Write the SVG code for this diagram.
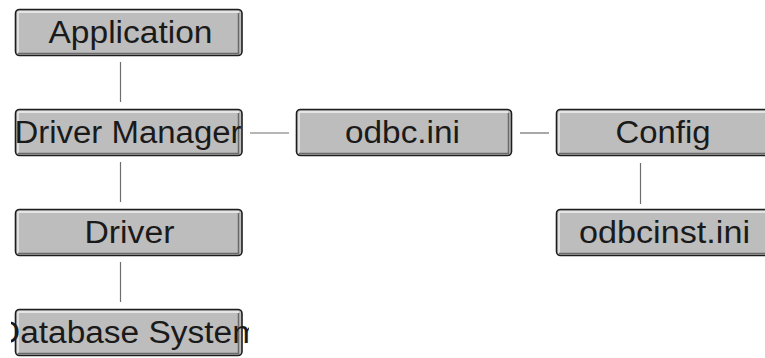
<svg xmlns="http://www.w3.org/2000/svg" width="765" height="358" viewBox="0 0 765 358">
<style>
.box{fill:#bdbdbd;stroke:#1e1e1e;stroke-width:1.6}
.hi{fill:none;stroke:#f2f2f2;stroke-width:1.3}
.sh{fill:none;stroke:#6a6a6a;stroke-width:1.5}
.lbl{font-family:"Liberation Sans",Arial,sans-serif;font-size:31px;fill:#1a1a1a;text-anchor:middle}
.conn line{stroke:#6e6e6e;stroke-width:1.2}
</style>
<defs>
<clipPath id="c1"><rect x="11" y="0" width="238" height="358"/></clipPath>
</defs>
<rect width="765" height="358" fill="#ffffff"/>
<g class="conn" id="connectors">
<line x1="120.5" y1="62" x2="120.5" y2="102"/>
<line x1="120.5" y1="162" x2="120.5" y2="202"/>
<line x1="120.5" y1="262" x2="120.5" y2="302"/>
<line x1="250" y1="133" x2="289" y2="133"/>
<line x1="520" y1="133" x2="549" y2="133"/>
<line x1="640.5" y1="163" x2="640.5" y2="204"/>
</g>
<g id="application">
<rect class="box" x="15.5" y="9.5" width="226.5" height="46" rx="4"/>
<path class="hi" d="M18,53 V13 Q18,12 19,12 H239"/>
<path class="sh" d="M18,53.5 H238.5 V13"/>
<text class="lbl" x="130.5" y="42.5" textLength="164" lengthAdjust="spacingAndGlyphs" clip-path="url(#c1)">Application</text>
</g>
<g id="driver-manager">
<rect class="box" x="15.5" y="109.5" width="226.5" height="46" rx="4"/>
<path class="hi" d="M18,153 V113 Q18,112 19,112 H239"/>
<path class="sh" d="M18,153.5 H238.5 V113"/>
<text class="lbl" x="128" y="142.5" textLength="227" lengthAdjust="spacingAndGlyphs" clip-path="url(#c1)">Driver Manager</text>
</g>
<g id="driver">
<rect class="box" x="15.5" y="209.5" width="226.5" height="46" rx="4"/>
<path class="hi" d="M18,253 V213 Q18,212 19,212 H239"/>
<path class="sh" d="M18,253.5 H238.5 V213"/>
<text class="lbl" x="129.5" y="242.5" textLength="90" lengthAdjust="spacingAndGlyphs" clip-path="url(#c1)">Driver</text>
</g>
<g id="database-system">
<rect class="box" x="15.5" y="309.5" width="226.5" height="46" rx="4"/>
<path class="hi" d="M18,353 V313 Q18,312 19,312 H239"/>
<path class="sh" d="M18,353.5 H238.5 V313"/>
<text class="lbl" x="128" y="342.5" textLength="264" lengthAdjust="spacingAndGlyphs" clip-path="url(#c1)">Database System</text>
</g>
<g id="odbc-ini">
<rect class="box" x="296.5" y="109.5" width="215" height="46" rx="4"/>
<path class="hi" d="M299,153 V113 Q299,112 300,112 H508"/>
<path class="sh" d="M299,153.5 H508.5 V113"/>
<text class="lbl" x="402.5" y="142.5" textLength="115" lengthAdjust="spacingAndGlyphs">odbc.ini</text>
</g>
<g id="config">
<rect class="box" x="556.5" y="109.5" width="215" height="46" rx="4"/>
<path class="hi" d="M559,153 V113 Q559,112 560,112 H768"/>
<path class="sh" d="M559,153.5 H768.5 V113"/>
<text class="lbl" x="663" y="142.5" textLength="95" lengthAdjust="spacingAndGlyphs">Config</text>
</g>
<g id="odbcinst-ini">
<rect class="box" x="556.5" y="209.5" width="215" height="46" rx="4"/>
<path class="hi" d="M559,253 V213 Q559,212 560,212 H768"/>
<path class="sh" d="M559,253.5 H768.5 V213"/>
<text class="lbl" x="664.5" y="242.5" textLength="171" lengthAdjust="spacingAndGlyphs">odbcinst.ini</text>
</g>
</svg>
